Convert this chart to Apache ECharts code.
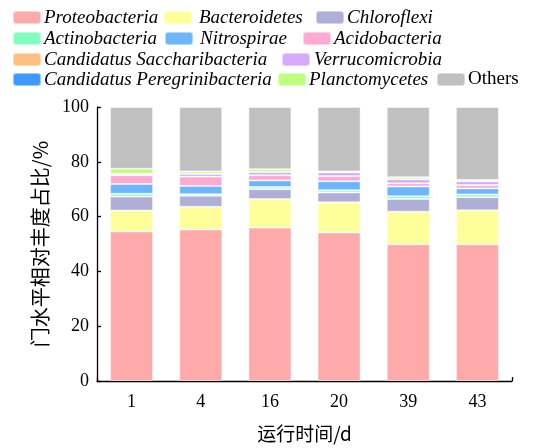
<!DOCTYPE html>
<html>
<head>
<meta charset="utf-8">
<script src="https://cdn.jsdelivr.net/npm/echarts@6/dist/echarts.min.js"></script>
<style>
  html, body { margin: 0; padding: 0; background: #fff; }
  #chart { width: 552px; height: 448px; }
</style>
</head>
<body>
<div id="chart"></div>
<script>
// Sampling days (x-axis categories)
const days = ['1', '4', '16', '20', '39', '43'];

// Relative abundance at phylum level (%), stacked bottom to top
const proteobacteria      = [54.6, 55.3, 56.0, 54.2, 49.9, 49.9];
const bacteroidetes       = [7.6, 8.3, 10.4, 11.0, 11.9, 12.4];
const chloroflexi         = [5.1, 4.0, 3.6, 3.6, 4.6, 4.8];
const actinobacteria      = [1.0, 0.6, 0.8, 0.8, 1.0, 1.0];
const nitrospirae         = [3.6, 3.0, 2.4, 3.3, 3.6, 2.2];
const acidobacteria       = [3.2, 3.4, 1.9, 1.9, 1.2, 1.2];
const saccharibacteria    = [0.0, 0.0, 0.0, 0.0, 0.0, 0.0];
const verrucomicrobia     = [0.5, 1.0, 1.2, 1.3, 1.4, 1.4];
const peregrinibacteria   = [0.0, 0.0, 0.0, 0.0, 0.0, 0.0];
const planctomycetes      = [1.9, 0.9, 1.0, 0.4, 0.8, 0.5];
const others              = [22.5, 23.5, 22.7, 23.5, 25.6, 26.6];

// Y-axis tick values
const yTicks = [0, 20, 40, 60, 80, 100];

const seriesDefs = [
  { name: 'Proteobacteria', data: proteobacteria, color: '#FFAAAA' },
  { name: 'Bacteroidetes', data: bacteroidetes, color: '#FFFF99' },
  { name: 'Chloroflexi', data: chloroflexi, color: '#AEAED6' },
  { name: 'Actinobacteria', data: actinobacteria, color: '#80FFBF' },
  { name: 'Nitrospirae', data: nitrospirae, color: '#6DB6FF' },
  { name: 'Acidobacteria', data: acidobacteria, color: '#FFAAD4' },
  { name: 'Candidatus Saccharibacteria', data: saccharibacteria, color: '#FFBF80' },
  { name: 'Verrucomicrobia', data: verrucomicrobia, color: '#D5AAFF' },
  { name: 'Candidatus Peregrinibacteria', data: peregrinibacteria, color: '#3D9BFF' },
  { name: 'Planctomycetes', data: planctomycetes, color: '#BFFF80' },
  { name: 'Others', data: others, color: '#C0C0C0' }
];

// Legend placement: one small legend per entry, laid out in four rows
const legendLayout = {
  'Proteobacteria':               { left: 12,  top: 8,  pad: 0 },
  'Bacteroidetes':                { left: 163, top: 8,  pad: 4 },
  'Chloroflexi':                  { left: 315, top: 8,  pad: 0 },
  'Actinobacteria':               { left: 12,  top: 29, pad: 0 },
  'Nitrospirae':                  { left: 164, top: 29, pad: 4 },
  'Acidobacteria':                { left: 302, top: 29, pad: 0 },
  'Candidatus Saccharibacteria':  { left: 12,  top: 50, pad: 0 },
  'Verrucomicrobia':              { left: 281, top: 50, pad: 1 },
  'Candidatus Peregrinibacteria': { left: 12,  top: 70, pad: 0 },
  'Planctomycetes':               { left: 277, top: 70, pad: 0 },
  'Others':                       { left: 436, top: 70, pad: 0 }
};

const serif = "'Liberation Serif', 'Times New Roman', Times, serif";
const cjk = "'Noto Sans CJK SC', sans-serif";

const legends = seriesDefs.map(s => {
  const p = legendLayout[s.name];
  return {
    data: [s.name],
    left: p.left,
    top: p.top,
    padding: 0,
    itemWidth: 28,
    itemHeight: 13,
    itemGap: 0,
    selectedMode: false,
    textStyle: {
      fontFamily: serif,
      fontSize: 19,
      fontStyle: s.name === 'Others' ? 'normal' : 'italic',
      color: '#000',
      padding: [0, 0, 0, p.pad - 2]
    }
  };
});

const chart = echarts.init(document.getElementById('chart'), null, { renderer: 'canvas' });

chart.setOption({
  animation: false,
  backgroundColor: '#fff',
  legend: legends,
  grid: { left: 97, right: 40, top: 107, bottom: 64 },
  xAxis: [
    {
      type: 'category',
      data: days,
      name: '运行时间/d',
      nameLocation: 'middle',
      nameGap: 43,
      nameTextStyle: { fontFamily: cjk, fontSize: 19, color: '#000' },
      axisLine: { show: true, lineStyle: { color: '#000', width: 1.3 } },
      axisTick: { show: false },
      axisLabel: { fontFamily: serif, fontSize: 18, color: '#000', margin: 12 }
    },
    {
      // only supplies the end tick at the right of the x-axis
      type: 'value',
      position: 'bottom',
      min: 0,
      max: 1,
      interval: 1,
      axisLine: { show: false },
      axisTick: { show: true, inside: true, length: 4, lineStyle: { color: '#000', width: 1.3 } },
      axisLabel: { show: false },
      splitLine: { show: false }
    }
  ],
  yAxis: {
    type: 'value',
    min: yTicks[0],
    max: yTicks[yTicks.length - 1],
    interval: yTicks[1] - yTicks[0],
    name: '门水平相对丰度占比/%',
    nameLocation: 'middle',
    nameGap: 47,
    nameRotate: 90,
    nameTextStyle: { fontFamily: cjk, fontSize: 20, color: '#000' },
    axisLine: { show: true, lineStyle: { color: '#000', width: 1.3 } },
    axisTick: { show: true, inside: true, length: 4, lineStyle: { color: '#000', width: 1.3 } },
    axisLabel: { fontFamily: serif, fontSize: 18, color: '#000', margin: 8 },
    splitLine: { show: false }
  },
  series: seriesDefs.map(s => ({
    name: s.name,
    type: 'bar',
    stack: 'total',
    xAxisIndex: 0,
    barWidth: 43,
    data: s.data,
    itemStyle: {
      color: s.color,
      borderColor: 'rgba(255,255,255,0.45)',
      borderWidth: 1
    }
  }))
});
</script>
</body>
</html>
